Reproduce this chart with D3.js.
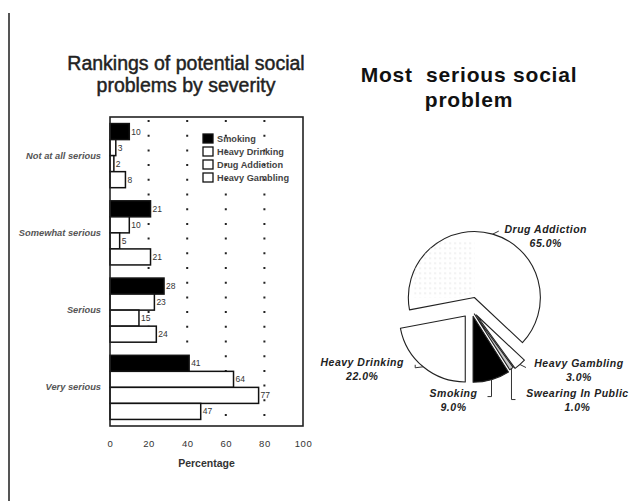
<!DOCTYPE html>
<html>
<head>
<meta charset="utf-8">
<script src="https://cdn.jsdelivr.net/npm/d3@7"></script>
<style>
  body { margin: 0; background: #fff; }
  svg { display: block; }
  text { font-family: "Liberation Sans", Arial, sans-serif; }
</style>
</head>
<body>
<svg id="chart" width="643" height="501"></svg>
<script>
// Survey data: severity rankings (percent of respondents) per problem
const severity = ["Not at all serious", "Somewhat serious", "Serious", "Very serious"];
const problems = ["Smoking", "Heavy Drinking", "Drug Addiction", "Heavy Gambling"];
const smoking = [10, 21, 28, 41];
const heavyDrinking = [3, 10, 23, 64];
const drugAddiction = [2, 5, 15, 77];
const heavyGambling = [8, 21, 24, 47];
const xTicks = [0, 20, 40, 60, 80, 100];

// Most serious social problem (percent)
const pieNames = ["Drug Addiction", "Heavy Gambling", "Swearing In Public", "Smoking", "Heavy Drinking"];
const pieShares = [65, 3, 1, 9, 22];

const seriesValues = [smoking, heavyDrinking, drugAddiction, heavyGambling];
const barFill = { "Smoking": "#000", "Heavy Drinking": "#fff", "Drug Addiction": "#fff", "Heavy Gambling": "#fff" };

const svg = d3.select("#chart");
svg.append("rect").attr("width", 643).attr("height", 501).attr("fill", "#fff");

// page rule on the left
svg.append("line").attr("x1", 9).attr("x2", 9).attr("y1", 13).attr("y2", 501)
  .attr("stroke", "#555").attr("stroke-width", 2);

// ---------- Bar chart ----------
const plot = { left: 110, right: 303, top: 117, bottom: 426 };
const x = d3.scaleLinear().domain([0, 100]).range([plot.left, plot.right]);
const y = d3.scaleBand().domain(severity).range([plot.top, plot.bottom])
  .paddingInner(0.17).paddingOuter(0.085);
const ySub = d3.scaleBand().domain(problems).range([0, y.bandwidth()]);

const titleL = svg.append("text").attr("text-anchor", "middle").attr("fill", "#222")
  .attr("stroke", "#222").attr("stroke-width", 0.45)
  .attr("font-size", 19.5);
titleL.append("tspan").attr("x", 186).attr("y", 70).text("Rankings of potential social");
titleL.append("tspan").attr("x", 186).attr("y", 92).text("problems by severity");

// dotted reference lines
svg.append("g").selectAll("line").data(xTicks.slice(1, -1)).join("line")
  .attr("x1", d => x(d)).attr("x2", d => x(d))
  .attr("y1", plot.top + 3).attr("y2", plot.bottom)
  .attr("stroke", "#222").attr("stroke-width", 2).attr("stroke-dasharray", "2,12.7");

// bars
const rows = [];
severity.forEach((s, i) => problems.forEach((p, j) => rows.push({ s, p, v: seriesValues[j][i] })));

svg.append("g").selectAll("rect").data(rows).join("rect")
  .attr("x", x(0))
  .attr("y", d => y(d.s) + ySub(d.p))
  .attr("width", d => x(d.v) - x(0))
  .attr("height", ySub.bandwidth())
  .attr("fill", d => barFill[d.p])
  .attr("stroke", "#111").attr("stroke-width", 1.5);

svg.append("g").selectAll("text").data(rows).join("text")
  .attr("x", d => x(d.v) + 2)
  .attr("y", d => y(d.s) + ySub(d.p) + ySub.bandwidth() / 2 + 3)
  .attr("font-size", 8.5).attr("fill", "#333")
  .text(d => d.v);

// frame
svg.append("rect").attr("x", plot.left).attr("y", plot.top)
  .attr("width", plot.right - plot.left).attr("height", plot.bottom - plot.top)
  .attr("fill", "none").attr("stroke", "#222").attr("stroke-width", 1.6);

// category labels
svg.append("g").selectAll("text").data(severity).join("text")
  .attr("x", plot.left - 9)
  .attr("y", d => y(d) + y.bandwidth() / 2 + 3)
  .attr("text-anchor", "end").attr("font-size", 9.3)
  .attr("font-weight", "bold").attr("font-style", "italic").attr("fill", "#555")
  .text(d => d);

// x axis
const xAxis = svg.append("g").attr("transform", `translate(0,${plot.bottom})`)
  .call(d3.axisBottom(x).tickValues(xTicks).tickSize(0).tickPadding(14));
xAxis.select(".domain").remove();
xAxis.selectAll("text").attr("font-size", 9.5).attr("fill", "#333")
  .attr("font-family", "'Liberation Sans', Arial, sans-serif").attr("letter-spacing", 0.5);

svg.append("text").attr("x", (plot.left + plot.right) / 2).attr("y", 467)
  .attr("text-anchor", "middle").attr("font-size", 10.5).attr("font-weight", "bold")
  .attr("fill", "#333").text("Percentage");

// legend
const legend = svg.append("g").attr("transform", "translate(203,134)");
const li = legend.selectAll("g").data(problems).join("g")
  .attr("transform", (d, i) => `translate(0,${i * 13})`);
li.append("rect").attr("width", 10).attr("height", 9)
  .attr("fill", d => barFill[d]).attr("stroke", "#111").attr("stroke-width", 1.3);
li.append("text").attr("x", 14).attr("y", 8).attr("font-size", 9.2)
  .attr("font-weight", "bold").attr("fill", "#444").text(d => d);

// ---------- Pie chart ----------
const titleR = svg.append("text").attr("text-anchor", "middle").attr("fill", "#111")
  .attr("font-size", 21).attr("font-weight", "bold").attr("letter-spacing", 0.8)
  .attr("xml:space", "preserve");
titleR.append("tspan").attr("x", 469).attr("y", 82).text("Most  serious social");
titleR.append("tspan").attr("x", 469).attr("y", 107).text("problem");

const cx = 471, cy = 309, r = 66;
const deg = Math.PI / 180;
const pie = d3.pie().sort(null).value(d => d.v)
  .startAngle(-100.8 * deg).endAngle(259.2 * deg);
const arcs = pie(pieNames.map((n, i) => ({ n, v: pieShares[i] })));
const arc = d3.arc().innerRadius(0).outerRadius(r);

const explode = { "Drug Addiction": 12, "Heavy Gambling": 8, "Swearing In Public": 6, "Smoking": 7.5, "Heavy Drinking": 9 };
const pieFill = { "Drug Addiction": "#fff", "Heavy Gambling": "#fff", "Swearing In Public": "#c8c8c8", "Smoking": "#000", "Heavy Drinking": "#fff" };

const defs = svg.append("defs");
const pat = defs.append("pattern").attr("id", "dots").attr("patternUnits", "userSpaceOnUse")
  .attr("width", 5).attr("height", 5);
pat.append("rect").attr("width", 1.5).attr("height", 1.5).attr("fill", "#e6e6e6");

const mid = a => (a.startAngle + a.endAngle) / 2;
const offset = a => {
  const m = mid(a), d = explode[a.data.n];
  return [cx + d * Math.sin(m), cy - d * Math.cos(m)];
};

const pg = svg.append("g");
arcs.forEach(a => {
  const [ox, oy] = offset(a);
  const g = pg.append("g").attr("transform", `translate(${ox},${oy})`);
  g.append("path").attr("d", arc(a)).attr("fill", pieFill[a.data.n])
    .attr("stroke", "#222").attr("stroke-width", 1.1).attr("stroke-linejoin", "round");
  if (a.data.n === "Drug Addiction") {
    defs.append("clipPath").attr("id", "daClip").append("path").attr("d", arc(a));
    g.append("rect").attr("x", -60).attr("y", -58).attr("width", 60).attr("height", 58)
      .attr("fill", "url(#dots)").attr("clip-path", "url(#daClip)");
  }
});

// label layout: leader path and text placement relative to the slice's outer mid point
const labelSpec = {
  "Drug Addiction":     { lead: p => [p, [p[0] + 6, p[1] - 3]], tx: 53, ty: -1 },
  "Heavy Gambling":     { lead: p => [p, [p[0] + 6, p[1] + 3]], tx: 59, ty: 2 },
  "Swearing In Public": { lead: p => [p, [p[0], p[1] + 31], [p[0] + 4, p[1] + 31]], tx: 66, ty: 28 },
  "Smoking":            { lead: p => [p, [p[0], p[1] + 17], [p[0] - 4, p[1] + 17]], tx: -38, ty: 17 },
  "Heavy Drinking":     { lead: p => [p, [p[0] - 8, p[1] + 1], [p[0] - 8, p[1] - 2]], tx: -61, ty: -1 }
};

arcs.forEach(a => {
  const [ox, oy] = offset(a);
  const m = mid(a);
  const p = [ox + r * Math.sin(m), oy - r * Math.cos(m)];
  const spec = labelSpec[a.data.n];
  svg.append("path").attr("d", d3.line()(spec.lead(p)))
    .attr("fill", "none").attr("stroke", "#333").attr("stroke-width", 1);
  const t = svg.append("text").attr("text-anchor", "middle")
    .attr("font-size", 10.5).attr("font-style", "italic").attr("font-weight", "bold")
    .attr("letter-spacing", 0.5).attr("fill", "#222");
  t.append("tspan").attr("x", p[0] + spec.tx).attr("y", p[1] + spec.ty).text(a.data.n);
  t.append("tspan").attr("x", p[0] + spec.tx).attr("y", p[1] + spec.ty + 14)
    .text(d3.format(".1f")(a.data.v) + "%");
});
</script>
</body>
</html>
